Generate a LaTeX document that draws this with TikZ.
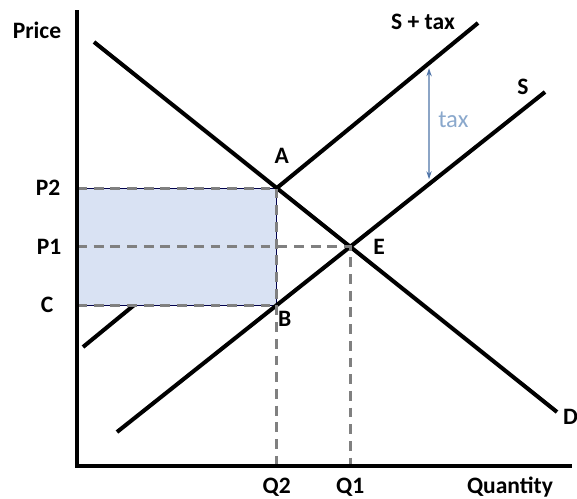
\documentclass[tikz,border=0pt]{standalone}
\usepackage{fontspec}
\setmainfont{Carlito}
\usepackage{xcolor}
\usetikzlibrary{arrows.meta,positioning,calc}

\definecolor{surplus}{HTML}{D9E2F3}
\definecolor{taxblue}{HTML}{4F74A8}
\definecolor{taxtext}{HTML}{8AA8CC}

\begin{document}
\begin{tikzpicture}[
  x=0.2mm, y=-0.2mm,
  curve/.style={line width=2.3pt, black},
  axis/.style={line width=2.4pt, black},
  guide/.style={line width=1.7pt, gray, dash pattern=on 5.6pt off 3.9pt},
  lbl/.style={font=\fontsize{13.4}{15}\selectfont\bfseries, inner sep=1pt},
  taxarr/.style={{Stealth[length=4.5pt,width=3pt]}-{Stealth[length=4.5pt,width=3pt]},
                 line width=0.8pt, taxblue, shorten <=1mm, shorten >=1mm},
]
\useasboundingbox (0,0) rectangle (577,498);

% Curve end points
\coordinate (d1) at (94,42);
\coordinate (d2) at (557,412);
\coordinate (s1) at (117,432);
\coordinate (s2) at (545,92);
\coordinate (t1) at (83,347);
\coordinate (t2) at (478,23);

% Axes
\coordinate (o) at (77,466);
\coordinate (ytop) at (77,10);
\coordinate (xend) at (572,466);

% Key points
\coordinate (A) at (intersection of d1--d2 and t1--t2);
\coordinate (E) at (intersection of d1--d2 and s1--s2);
\coordinate (B) at (intersection of s1--s2 and A--{$(A)+(0,100)$});
\coordinate (ta) at (intersection of t1--t2 and 429,0--429,500);
\coordinate (sa) at (intersection of s1--s2 and 429,0--429,500);

% Supply with tax (partly hidden by the tax area)
\draw[curve] (t1) -- (t2);

% Tax revenue area
\fill[surplus, draw=blue!30!black, line width=0.4pt] (ytop |- A) rectangle (B);

% Demand and supply
\draw[curve] (d1) -- (d2);
\draw[curve] (s1) -- (s2);

% Guide lines
\draw[guide] (ytop |- A) -- (A) -- (A |- o);
\draw[guide] (ytop |- B) -- (B);
\draw[guide] (ytop |- E) -- (E) -- (E |- o);

% Axes
\draw[axis] (ytop) -- (o) -- (xend);

% Tax arrow
\draw[taxarr] (ta) -- (sa);
\node[font=\fontsize{14}{16}\selectfont, text=taxtext, anchor=west] (taxlbl) at ($(ta)!0.5!(sa)+(3,-4)$) {tax};

% Axis labels
\node[lbl] (price) at (37,30) {Price};
\node[lbl] (quantity) at (510,487) {Quantity};
\node[lbl] (p2) at (48,0 |- A) {P2};
\node[lbl] (p1) at (49,0 |- E) {P1};
\node[lbl] (c) at (47,0 |- B) {C};
\node[lbl] (q2) at (A |- 0,487) {Q2};
\node[lbl] (q1) at (E |- 0,487) {Q1};

% Point and curve labels
\node[lbl] (alab) at ($(A)+(5,-32)$) {A};
\node[lbl] (blab) at ($(B)+(8,14)$) {B};
\node[lbl] (elab) at ($(E)+(29,0)$) {E};
\node[lbl] (stax) at (423,22) {S + tax};
\node[lbl] (slab) at (523,87) {S};
\node[lbl, anchor=west] (dlab) at (561,417) {D};

\end{tikzpicture}
\end{document}
